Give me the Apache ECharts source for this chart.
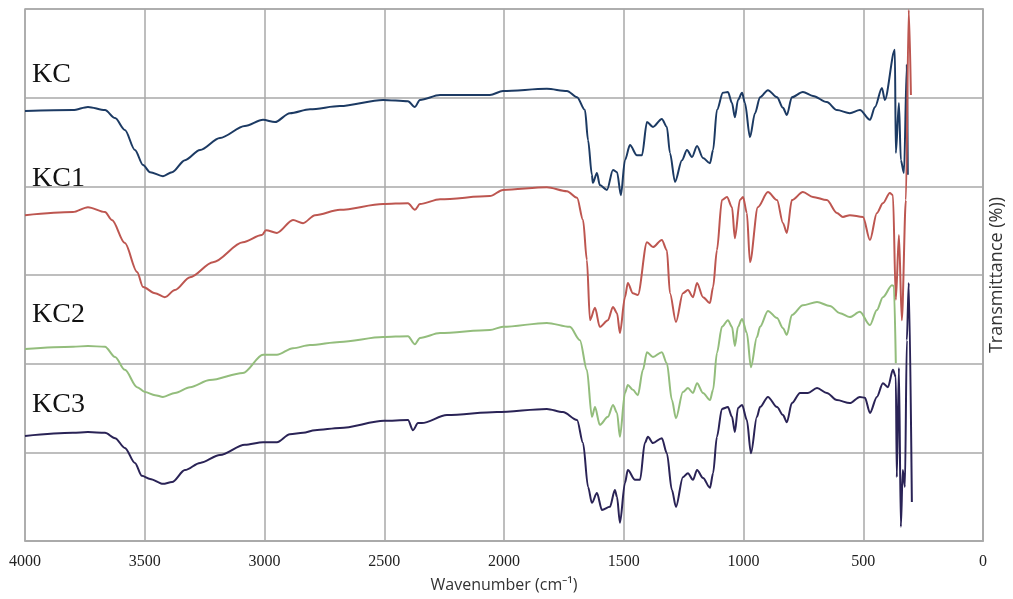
<!DOCTYPE html>
<html>
<head>
<meta charset="utf-8">
<script src="https://cdn.jsdelivr.net/npm/echarts@6/dist/echarts.min.js"></script>
<style>
html,body{margin:0;padding:0;background:#fff;}
#chart{width:1013px;height:599px;}
</style>
</head>
<body>
<div id="chart"></div>
<script>
// ---- data (wavenumber cm-1, transmittance offset units) ----
const seriesNames = ['KC', 'KC1', 'KC2', 'KC3'];
const xTicks = [4000, 3500, 3000, 2500, 2000, 1500, 1000, 500, 0];

const KC = [
[4000,48.5],[3800,48.6],[3737,48.95],[3666,48.6],[3624,47.7],[3583,46.35],[3541,44.1],[3507,42.4],[3478,41.6],[3424,41.15],[3386,41.6],[3332,42.95],[3269,44.1],[3186,45.45],[3082,46.8],[3006,47.5],[2956,47.25],[2894,48.25],[2810,48.7],[2685,49.05],[2505,49.75],[2401,49.6],[2372,48.95],[2351,49.75],[2267,50.3],[2059,50.3],[2004,50.75],[1821,51.0],[1737,50.75],[1695,50.05],[1662,48.6],[1649,45.2],[1633,41.3],[1629,40.4],[1612,41.5],[1600,40.15],[1570,39.6],[1545,41.85],[1528,41.6],[1512,39.0],[1495,42.95],[1474,44.65],[1445,43.5],[1424,43.5],[1403,47.25],[1378,46.7],[1341,47.6],[1320,46.7],[1307,43.75],[1286,40.5],[1257,42.95],[1236,44.1],[1215,43.3],[1194,44.55],[1169,43.2],[1140,42.6],[1127,44.1],[1111,48.6],[1086,50.55],[1065,50.65],[1048,49.4],[1036,47.8],[1023,49.75],[1006,50.55],[994,49.4],[973,45.55],[952,48.25],[931,50.05],[898,50.85],[860,50.05],[835,48.85],[819,48.05],[798,50.05],[752,50.65],[710,50.2],[652,49.5],[610,48.6],[556,48.25],[514,48.6],[472,47.5],[451,48.95],[422,51.1],[410,49.75],[368,55.4],[364,43.75],[351,49.4],[343,42.95],[330,41.5],[318,53.7],[314,41.3]
];

const KC1 = [
[4000,36.75],[3800,37.1],[3737,37.65],[3666,37.1],[3637,36.2],[3583,33.6],[3532,30.35],[3507,28.65],[3457,27.95],[3416,27.5],[3374,28.3],[3311,29.75],[3215,31.45],[3090,33.7],[3011,34.5],[2994,35.05],[2948,34.75],[2881,36.2],[2839,35.85],[2789,36.75],[2685,37.35],[2505,38.0],[2401,38.1],[2372,37.35],[2351,38.0],[2267,38.55],[2059,38.9],[2004,39.6],[1821,39.9],[1737,39.45],[1695,38.7],[1670,36.2],[1654,31.7],[1641,24.9],[1620,26.3],[1600,24.15],[1566,24.9],[1545,26.4],[1528,25.7],[1516,23.45],[1495,27.5],[1483,29.1],[1462,27.95],[1441,27.75],[1403,33.7],[1378,33.15],[1341,33.95],[1320,32.8],[1307,27.95],[1282,24.7],[1253,27.95],[1232,28.3],[1211,27.5],[1194,29.1],[1169,27.5],[1140,26.85],[1127,28.65],[1111,32.8],[1090,38.45],[1069,38.8],[1048,37.65],[1036,34.15],[1015,38.45],[1002,38.8],[986,37.0],[973,31.45],[940,37.65],[898,39.35],[860,38.45],[835,35.85],[819,34.75],[798,38.45],[752,39.35],[710,38.8],[652,38.45],[610,37.0],[585,36.55],[556,36.75],[501,36.55],[472,33.95],[443,37.0],[418,38.1],[389,39.25],[376,39.0],[364,27.2],[351,34.5],[339,24.9],[322,38.45],[310,59.9],[301,50.3]
];

const KC2 = [
[4000,21.65],[3800,21.9],[3737,22.0],[3666,21.9],[3624,20.75],[3583,19.3],[3532,17.35],[3499,16.8],[3457,16.45],[3424,16.25],[3374,16.7],[3311,17.35],[3228,18.15],[3090,18.95],[3006,21.0],[2948,21.0],[2881,21.75],[2810,22.1],[2685,22.45],[2505,23.0],[2401,23.1],[2372,22.2],[2351,22.9],[2267,23.45],[2059,23.8],[2004,24.15],[1821,24.6],[1725,24.15],[1683,22.65],[1654,19.3],[1633,14.0],[1620,15.1],[1600,13.1],[1566,14.0],[1545,15.35],[1528,14.45],[1516,11.75],[1495,16.7],[1483,17.6],[1462,17.05],[1441,16.45],[1420,19.3],[1403,21.3],[1378,20.75],[1341,21.3],[1320,20.05],[1299,15.9],[1282,13.85],[1253,16.8],[1232,17.25],[1211,16.7],[1194,17.8],[1169,16.7],[1140,15.9],[1127,17.05],[1111,21.2],[1090,24.15],[1065,24.9],[1048,24.15],[1036,22.0],[1023,24.15],[1006,25.05],[986,23.45],[969,19.6],[944,23.0],[931,24.15],[898,25.95],[860,25.15],[835,24.0],[819,23.25],[798,25.5],[752,26.6],[693,26.95],[639,26.5],[597,25.7],[556,25.25],[514,25.85],[472,24.35],[443,26.05],[418,27.5],[380,28.85],[372,28.75],[364,20.05]
];

const KC3 = [
[4000,11.85],[3800,12.2],[3737,12.3],[3666,12.2],[3624,11.6],[3583,10.5],[3541,8.8],[3512,7.35],[3478,7.0],[3424,6.45],[3386,6.65],[3332,8.0],[3269,8.8],[3186,9.7],[3082,10.85],[3006,11.15],[2948,11.15],[2894,12.05],[2839,12.2],[2789,12.5],[2685,12.75],[2501,13.55],[2401,13.65],[2380,12.5],[2359,13.3],[2343,13.3],[2238,14.2],[2029,14.55],[1821,14.9],[1754,14.55],[1695,13.65],[1670,11.05],[1649,6.1],[1633,4.3],[1612,5.4],[1591,3.5],[1558,3.85],[1537,5.75],[1528,4.95],[1516,2.05],[1495,6.55],[1483,8.0],[1453,6.9],[1432,6.9],[1412,11.05],[1399,11.75],[1378,11.05],[1341,11.6],[1320,9.9],[1299,5.75],[1282,3.85],[1253,7.2],[1232,7.65],[1211,6.9],[1194,8.0],[1169,7.1],[1140,6.0],[1127,7.65],[1111,11.75],[1090,14.9],[1065,15.1],[1048,14.0],[1036,12.3],[1023,15.0],[1006,15.35],[986,13.65],[969,9.9],[944,14.0],[931,15.1],[898,16.25],[860,15.1],[835,14.2],[819,13.4],[798,15.55],[764,16.7],[731,16.7],[693,17.25],[652,16.7],[610,15.9],[556,15.55],[514,16.25],[493,16.15],[472,14.45],[443,16.25],[418,17.8],[397,17.35],[376,19.3],[364,18.5],[360,7.2],[351,19.5],[343,1.6],[335,8.0],[326,6.1],[318,22.65],[310,29.1],[297,4.4]
];

const seriesData = [KC, KC1, KC2, KC3];
const colors = ['#1c3a63', '#bd5650', '#93bd7c', '#2a2356'];
const labelY = [77, 181, 317, 407];

const chart = echarts.init(document.getElementById('chart'), null, {renderer: 'canvas'});
const option = {
  animation: false,
  backgroundColor: '#ffffff',
  grid: {left: 25, right: 30, top: 9, bottom: 58, show: true, borderColor: '#a9a9a9', borderWidth: 1.5,
    containLabel: false, outerBoundsMode: 'none'},
  xAxis: {
    type: 'value', inverse: true, min: 0, max: 4000, interval: 500,
    name: 'Wavenumber (cm\u207B\u00B9)', nameLocation: 'middle', nameGap: 36,
    nameTextStyle: {fontFamily: 'Open Sans', fontSize: 16, color: '#333'},
    axisLine: {show: true, lineStyle: {color: '#a9a9a9', width: 1.5}},
    axisTick: {show: false},
    axisLabel: {fontFamily: 'Liberation Serif', fontSize: 16, color: '#222', margin: 13,
      formatter: v => xTicks.includes(v) ? String(v) : ''},
    splitLine: {show: true, lineStyle: {color: '#a9a9a9', width: 1.5}}
  },
  yAxis: {
    type: 'value', min: 0, max: 60, interval: 10, position: 'right',
    name: 'Transmittance (%))', nameLocation: 'middle', nameGap: 5, nameRotate: 90,
    nameTextStyle: {fontFamily: 'Open Sans', fontSize: 18, color: '#333'},
    axisLine: {show: true, lineStyle: {color: '#a9a9a9', width: 1.5}},
    axisTick: {show: false},
    axisLabel: {show: false},
    splitLine: {show: true, lineStyle: {color: '#a9a9a9', width: 1.5}}
  },
  series: seriesData.map((d, i) => ({
    name: seriesNames[i], type: 'line', data: d, showSymbol: false,
    smooth: 0.3, smoothMonotone: 'x',
    lineStyle: {color: colors[i], width: 2}, itemStyle: {color: colors[i]},
    z: 3 + i
  })),
  graphic: seriesNames.map((n, i) => ({
    type: 'text', left: 32, top: labelY[i] - 16,
    style: {text: n, font: '28px "Liberation Serif"', fill: '#111'}
  }))
};
chart.setOption(option);
</script>
</body>
</html>
